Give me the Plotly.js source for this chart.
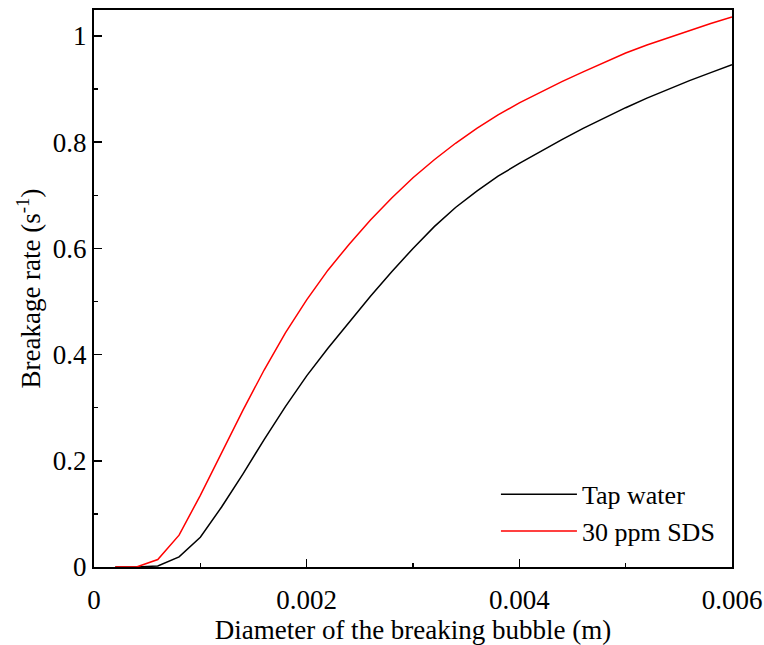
<!DOCTYPE html>
<html>
<head>
<meta charset="utf-8">
<script src="https://cdn.plot.ly/plotly-3.0.1.min.js"></script>
<style>html,body{margin:0;padding:0;background:#fff;}#chart{width:764px;height:645px;}</style>
</head>
<body>
<div id="chart"></div>
<script>
const diameter = [0.0002,0.0004,0.0006,0.0008,0.0010,0.0012,0.0014,0.0016,0.0018,0.0020,
  0.0022,0.0024,0.0026,0.0028,0.0030,0.0032,0.0034,0.0036,0.0038,0.0040,
  0.0042,0.0044,0.0046,0.0048,0.0050,0.0052,0.0054,0.0056,0.0058,0.0060];
const tapWater = [0,0,0.002,0.019,0.056,0.113,0.175,0.240,0.302,0.360,
  0.412,0.462,0.510,0.556,0.600,0.641,0.677,0.708,0.736,0.760,
  0.783,0.805,0.826,0.846,0.865,0.883,0.900,0.916,0.931,0.946];
const sds30 = [0,0,0.014,0.060,0.135,0.215,0.295,0.371,0.441,0.503,
  0.559,0.608,0.6535,0.695,0.733,0.767,0.798,0.826,0.8515,0.874,
  0.8945,0.914,0.9325,0.9505,0.968,0.983,0.997,1.0105,1.0235,1.036];
const seriesNames = ["Tap water", "30 ppm SDS"];

const font = "'Liberation Serif', 'Times New Roman', serif";
const fs = 27;
const traces = [
  {x: diameter, y: tapWater, name: seriesNames[0], mode: "lines", legendgroup: "a",
   line: {color: "#000000", width: 1.5}},
  {x: diameter, y: sds30, name: seriesNames[1], mode: "lines", legendgroup: "b",
   line: {color: "#ff0000", width: 1.5}}
];
const axisCommon = {
  showgrid: false, zeroline: false, showline: true, linecolor: "#000", linewidth: 2,
  mirror: true, ticks: "inside", ticklen: 8, tickwidth: 1.5, tickcolor: "#000",
  tickfont: {family: font, size: fs, color: "#000"}
};
const layout = {
  width: 764, height: 645,
  margin: {l: 94, r: 32, t: 10, b: 78},
  paper_bgcolor: "#fff", plot_bgcolor: "#fff",
  font: {family: font, color: "#000"},
  showlegend: true,
  legend: {x: 0.63, y: 0.1725, xanchor: "left", yanchor: "top", bgcolor: "rgba(0,0,0,0)",
    font: {family: font, size: 26, color: "#000"}, tracegroupgap: 0, traceorder: "grouped",
    itemwidth: 76},
  xaxis: Object.assign({}, axisCommon, {
    range: [0, 0.006], tickvals: [0, 0.002, 0.004, 0.006], ticktext: ["0", "0.002", "0.004", "0.006"],
    minor: {ticks: "inside", ticklen: 4, tickwidth: 1.5, tickcolor: "#000", tickvals: [0.001, 0.003, 0.005]},
    ticklabelstandoff: 8,
    title: {text: "Diameter of the breaking bubble (m)", font: {family: font, size: fs, color: "#000"}, standoff: 0}
  }),
  yaxis: Object.assign({}, axisCommon, {
    range: [0, 1.049], tickvals: [0, 0.2, 0.4, 0.6, 0.8, 1], ticktext: ["0", "0.2", "0.4", "0.6", "0.8", "1"],
    minor: {ticks: "inside", ticklen: 4, tickwidth: 1.5, tickcolor: "#000", tickvals: [0.1, 0.3, 0.5, 0.7, 0.9]},
    ticklabelstandoff: 0,
    title: {text: "Breakage rate (s<sup>-1</sup>)", font: {family: font, size: fs, color: "#000"}, standoff: 4}
  })
};
Plotly.newPlot("chart", traces, layout, {displayModeBar: false, staticPlot: true});
</script>
</body>
</html>
